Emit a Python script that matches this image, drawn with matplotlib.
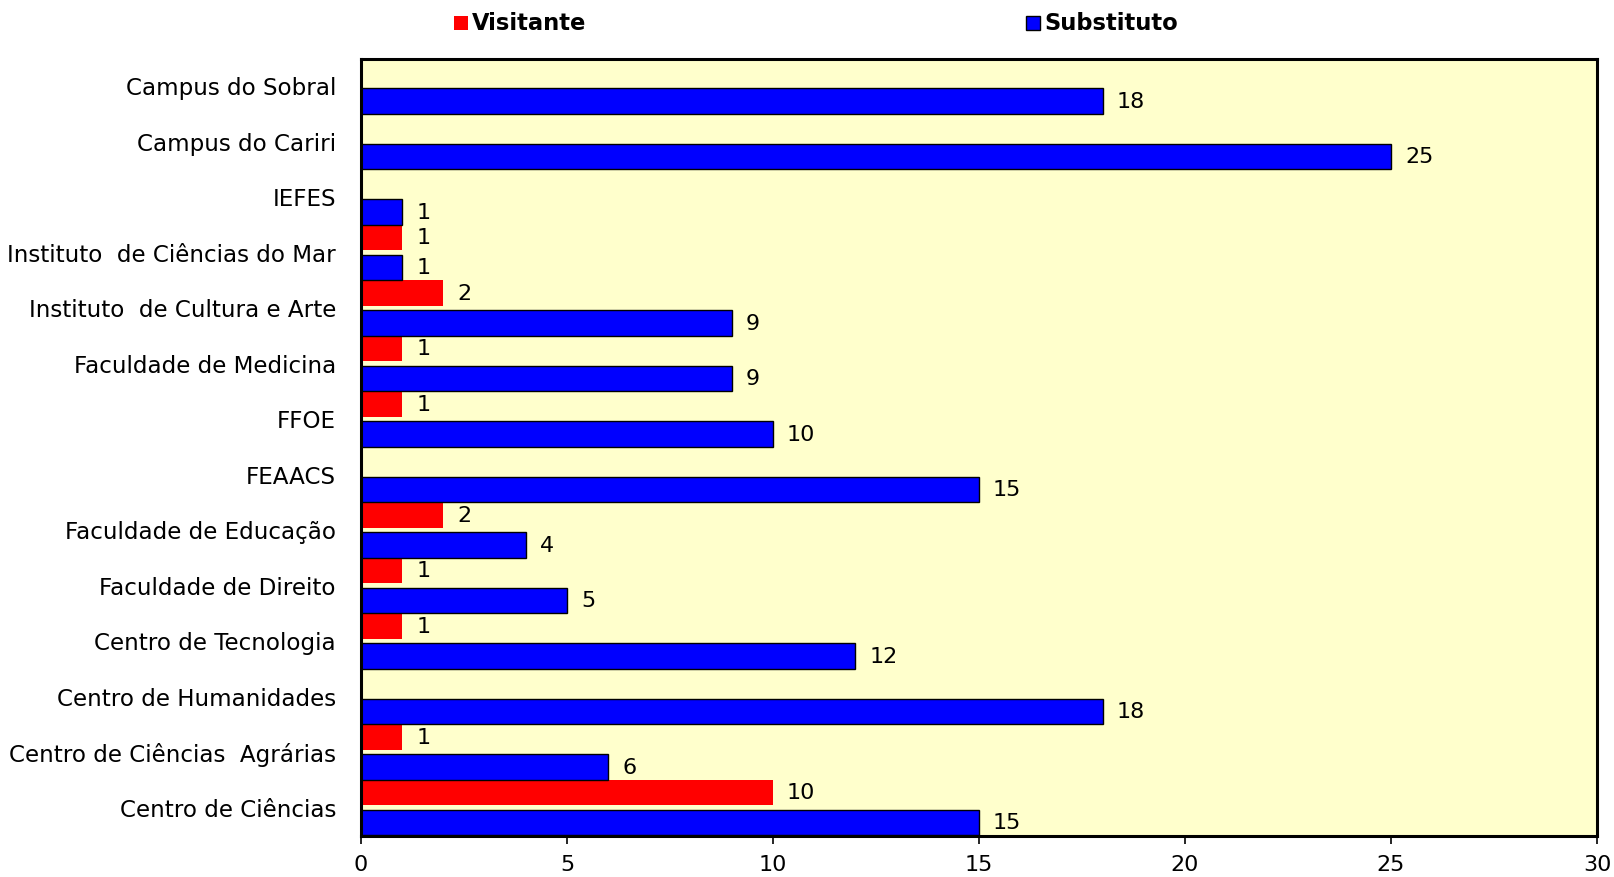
import matplotlib
matplotlib.use("Agg")
import matplotlib.pyplot as plt
from matplotlib.patches import Rectangle

categories = ["Centro de Ciências", "Centro de Ciências  Agrárias", "Centro de Humanidades",
              "Centro de Tecnologia", "Faculdade de Direito", "Faculdade de Educação",
              "FEAACS", "FFOE", "Faculdade de Medicina", "Instituto  de Cultura e Arte",
              "Instituto  de Ciências do Mar", "IEFES", "Campus do Cariri", "Campus do Sobral"]
visitante = [10, 1, 0, 1, 1, 2, 0, 1, 1, 2, 1, 0, 0, 0]
substituto = [15, 6, 18, 12, 5, 4, 15, 10, 9, 9, 1, 1, 25, 18]
xticks = [0, 5, 10, 15, 20, 25, 30]

W, H = 1615, 878
fig = plt.figure(figsize=(W / 100, H / 100), dpi=100)
ax = fig.add_axes([361 / W, (H - 837) / H, (1597 - 361) / W, (837 - 60) / H])
ax.set_facecolor("#FFFFCC")

fs = 16
n = len(categories)
ys = list(range(n))
bh = 0.46
ax.barh([y + 0.785 for y in ys], visitante, height=bh, color="#FF0000", edgecolor="none", zorder=2)
ax.barh([y + 0.245 for y in ys], substituto, height=bh, color="#0000FF", edgecolor="black",
        linewidth=1.0, zorder=2)

for y, v in zip(ys, visitante):
    if v > 0:
        ax.annotate(str(v), (v, y + 0.785), xytext=(14, 0), textcoords="offset pixels",
                    va="center", ha="left", fontsize=fs)
for y, v in zip(ys, substituto):
    if v > 0:
        ax.annotate(str(v), (v, y + 0.245), xytext=(14, 0), textcoords="offset pixels",
                    va="center", ha="left", fontsize=fs)

ax.set_xlim(0, 30)
ax.set_ylim(0, n)
ax.set_xticks(xticks)
ax.set_xticklabels([str(t) for t in xticks], fontsize=fs)
ax.tick_params(axis="x", direction="out", length=6, width=1.2, pad=7)
ax.set_yticks([y + 0.53 for y in ys])
ax.set_yticklabels(categories, fontsize=16.6)
ax.tick_params(axis="y", length=0, pad=18)
for s in ax.spines.values():
    s.set_linewidth(2.2)
    s.set_color("black")

# legend
for (x0, col, ec, label) in [(454, "#FF0000", "none", "Visitante"), (1026, "#0000FF", "black", "Substituto")]:
    fig.patches.append(Rectangle((x0 / W, (H - 31) / H), 14 / W, 14 / H, transform=fig.transFigure,
                                 facecolor=col, edgecolor=ec, linewidth=1.0))
    fig.text((x0 + 18) / W, (H - 23) / H, label, fontsize=16.3, fontweight="bold", va="center", ha="left")

fig.savefig("out.png", dpi=100)
